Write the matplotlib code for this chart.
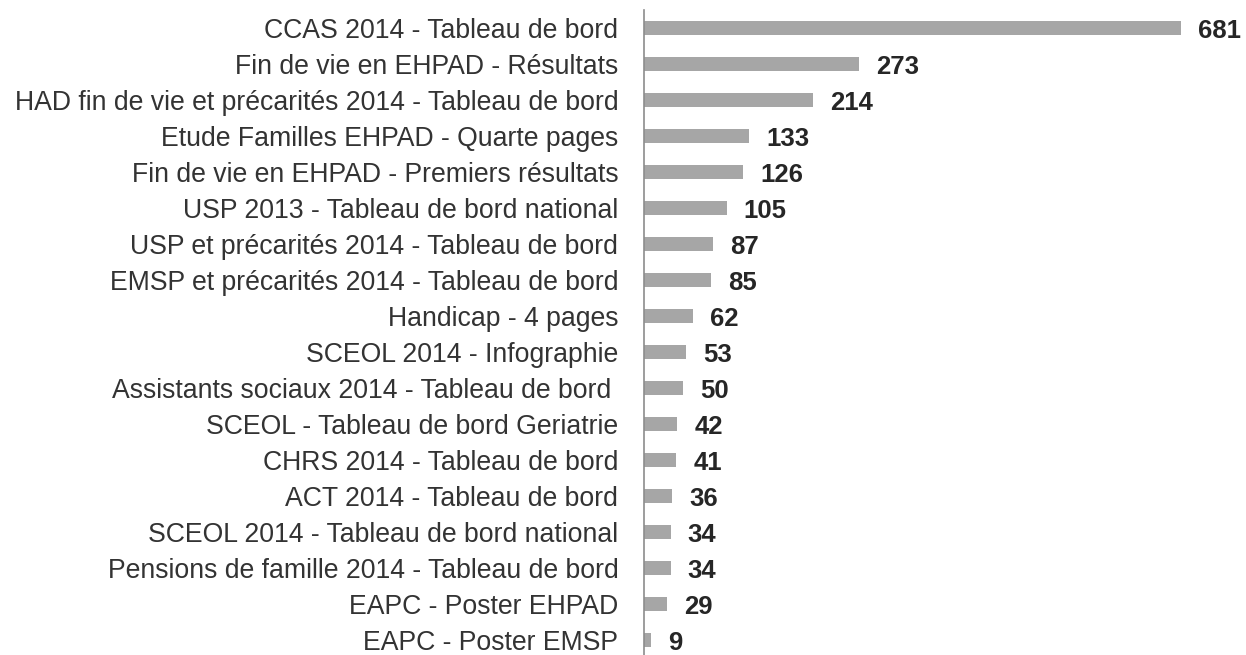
import matplotlib
matplotlib.use("Agg")
import matplotlib.pyplot as plt

categories = [
    "CCAS 2014 - Tableau de bord",
    "Fin de vie en EHPAD - Résultats",
    "HAD fin de vie et précarités 2014 - Tableau de bord",
    "Etude Familles EHPAD - Quarte pages",
    "Fin de vie en EHPAD - Premiers résultats",
    "USP 2013 - Tableau de bord national",
    "USP et précarités 2014 - Tableau de bord",
    "EMSP et précarités 2014 - Tableau de bord",
    "Handicap - 4 pages",
    "SCEOL 2014 - Infographie",
    "Assistants sociaux 2014 - Tableau de bord ",
    "SCEOL - Tableau de bord Geriatrie",
    "CHRS 2014 - Tableau de bord",
    "ACT 2014 - Tableau de bord",
    "SCEOL 2014 - Tableau de bord national",
    "Pensions de famille 2014 - Tableau de bord",
    "EAPC - Poster EHPAD",
    "EAPC - Poster EMSP",
]
values = [681, 273, 214, 133, 126, 105, 87, 85, 62, 53, 50, 42, 41, 36, 34, 34, 29, 9]

plt.rcParams['font.family'] = ['Liberation Sans', 'DejaVu Sans']

W, H = 1246, 655
fig = plt.figure(figsize=(W / 100, H / 100), dpi=100)
ax = fig.add_axes([644 / W, (H - 658) / H, (W - 644) / W, 648 / H])

ypos = list(range(len(categories)))
ax.barh(ypos, values, height=0.39, color="#a6a6a6")
ax.set_ylim(len(categories) - 0.5, -0.5)
ax.set_xlim(0, 763)
ax.set_yticks(ypos)
ax.set_yticklabels(categories, fontsize=19.2, color="#333333")
ax.tick_params(axis='y', length=0, pad=18.5)
ax.set_xticks([])
for s in ["top", "right", "bottom"]:
    ax.spines[s].set_visible(False)
ax.spines["left"].set_color("#8c8c8c")
ax.spines["left"].set_linewidth(1.2)

for y, v in zip(ypos, values):
    ax.annotate(str(v), (v, y), xytext=(17, -2.5), textcoords="offset pixels",
                va="center", ha="left", fontsize=18.5, fontweight="bold", color="#262626")

fig.savefig("out.png", dpi=100)
